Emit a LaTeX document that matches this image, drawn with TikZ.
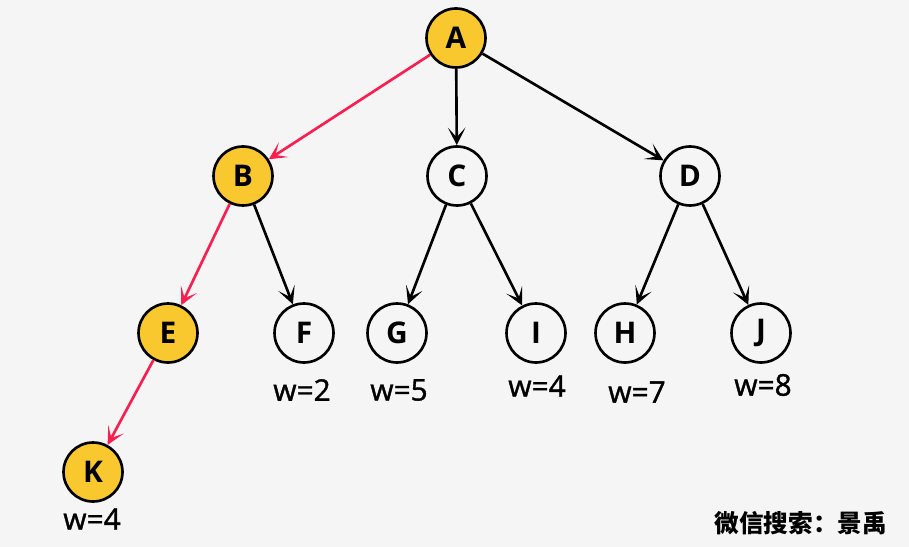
\documentclass[tikz,border=0pt]{standalone}
\usepackage{fontspec}
\setmainfont{Open Sans}
\newfontfamily\weightfont[FakeBold=1.2]{Open Sans}
\newfontfamily\cjkfont{Noto Sans CJK SC}
\usetikzlibrary{arrows.meta,positioning}
\definecolor{nodeyellow}{HTML}{F9C72E}
\definecolor{pathred}{HTML}{FA1E4E}
\definecolor{bggray}{HTML}{F5F5F5}
\tikzset{
    vertex/.style = {circle, draw=black, line width=1.5pt, minimum size=1.18cm,
        inner sep=0pt, font=\fontsize{17}{20}\selectfont\bfseries},
    picked/.style = {vertex, fill=nodeyellow},
    edgearrow/.style = {line width=1.5pt, -{Stealth[length=10pt,width=10pt,inset=5.5pt]}},
    redarrow/.style = {edgearrow, draw=pathred},
    weight/.style = {font=\weightfont\fontsize{17}{20}\selectfont}
}

\begin{document}
\begin{tikzpicture}[x=0.02cm,y=-0.02cm]
    \fill[bggray] (0,0) rectangle (909,547);
    \useasboundingbox (0,0) rectangle (909,547);

    \node[picked] (A) at (456,38) {A};
    \node[picked] (B) at (243,176) {B};
    \node[vertex] (C) at (457,176) {C};
    \node[vertex] (D) at (690,176) {D};
    \node[picked] (E) at (168,333) {E};
    \foreach \n/\x in {F/304,G/397,I/536,H/625,J/761}
        \node[vertex] (\n) at (\x,333) {\n};
    \node[picked] (K) at (93,472) {K};

    % weights below the leaves
    \node[weight] (wF) at (302,390) {w=2};
    \node[weight] (wG) at (399,390) {w=5};
    \node[weight] (wI) at (537,386) {w=4};
    \node[weight] (wH) at (637,392) {w=7};
    \node[weight] (wJ) at (763,385) {w=8};
    \node[weight] (wK) at (92,519) {w=4};

    \foreach \a/\b in {A/C,A/D,B/F,C/G,C/I,D/H,D/J}
        \draw[edgearrow] (\a) -- (\b);
    \foreach \a/\b in {A/B,B/E,E/K}
        \draw[redarrow] (\a) -- (\b);

    \node[font=\cjkfont\bfseries\fontsize{14}{16}\selectfont, anchor=east] (mark) at (893,523) {微信搜索：景禹};
\end{tikzpicture}
\end{document}
